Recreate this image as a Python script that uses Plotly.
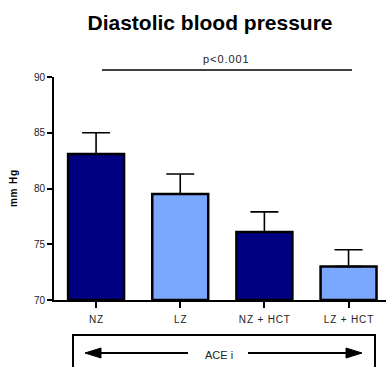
import plotly.graph_objects as go

categories = ["NZ", "LZ", "NZ + HCT", "LZ + HCT"]
means = [83.1, 79.5, 76.1, 73.0]
sem = [1.9, 1.8, 1.8, 1.5]
colors = ["#000080", "#7BA7FF", "#000080", "#7BA7FF"]
y_ticks = [70, 75, 80, 85, 90]

W, H = 386, 367
L, R, T, B = 54, 0, 77, 67
FONT = "Liberation Sans, Arial"
HS = "\u200a"

def spaced(s):
    return HS.join(list(s))

def px(x):
    return (x - L) / (W - L - R)

def py(y):
    return (H - B - y) / (H - T - B)

fig = go.Figure()
fig.add_trace(go.Bar(
    x=categories, y=[m - 70 for m in means], base=70,
    width=0.665,
    marker=dict(color=colors, line=dict(color="black", width=2.5)),
    error_y=dict(type="data", symmetric=False, array=sem,
                 arrayminus=[0] * len(sem), color="black",
                 thickness=1.6, width=14),
))

shapes = []
shapes.append(dict(type="line", xref="paper", yref="paper",
                   x0=px(102), x1=px(352), y0=py(70), y1=py(70),
                   line=dict(color="black", width=1.6)))
bx0, bx1, by0, by1 = px(73), px(375), py(335), py(372)
shapes.append(dict(type="path", xref="paper", yref="paper",
                   path=f"M {bx0},{by1} L {bx0},{by0} L {bx1},{by0} L {bx1},{by1}",
                   line=dict(color="black", width=2)))
ay = py(353)
shapes.append(dict(type="line", xref="paper", yref="paper",
                   x0=px(95), x1=px(188), y0=ay, y1=ay,
                   line=dict(color="black", width=2)))
shapes.append(dict(type="line", xref="paper", yref="paper",
                   x0=px(248), x1=px(352), y0=ay, y1=ay,
                   line=dict(color="black", width=2)))
shapes.append(dict(type="path", xref="paper", yref="paper",
                   path=f"M {px(85)},{ay} L {px(101)},{py(348)} L {px(101)},{py(358)} Z",
                   fillcolor="black", line=dict(color="black", width=1)))
shapes.append(dict(type="path", xref="paper", yref="paper",
                   path=f"M {px(362)},{ay} L {px(346)},{py(348)} L {px(346)},{py(358)} Z",
                   fillcolor="black", line=dict(color="black", width=1)))

annotations = [
    dict(text=spaced("p<0.001"), xref="paper", yref="paper", x=px(226), y=py(59),
         xanchor="center", yanchor="middle",
         showarrow=False, font=dict(size=11, color="#222", family=FONT)),
    dict(text="ACE i", xref="paper", yref="paper", x=px(219), y=py(355),
         xanchor="center", yanchor="middle",
         showarrow=False, font=dict(size=11, color="#222", family=FONT)),
]

fig.update_layout(
    width=W, height=H,
    margin=dict(l=L, r=R, t=T, b=B, pad=0),
    paper_bgcolor="white", plot_bgcolor="white",
    showlegend=False,
    title=dict(text="<b>Diastolic blood pressure</b>", x=210 / W, xanchor="center",
               y=1 - 23 / H, yanchor="middle",
               font=dict(size=21, color="black", family=FONT)),
    shapes=shapes,
    annotations=annotations,
    bargap=0.335,
)
fig.update_xaxes(
    range=[-0.5, 3.445], showline=True, linecolor="black", linewidth=2,
    ticks="outside", ticklen=6, tickwidth=2, tickcolor="black",
    showgrid=False, zeroline=False, automargin=False, ticklabelstandoff=3,
    tickvals=categories, ticktext=[spaced(c) for c in categories],
    tickfont=dict(size=10, color="#222", family=FONT),
)
fig.update_yaxes(
    range=[70, 90], tickvals=y_ticks, showline=True, linecolor="black", linewidth=2,
    ticks="outside", ticklen=5, tickwidth=2, tickcolor="black",
    showgrid=False, zeroline=False, automargin=False,
    tickfont=dict(size=10, color="#222", family=FONT),
    title=dict(text="<b>" + spaced("mm Hg") + "</b>", font=dict(size=10, color="black", family=FONT),
               standoff=14),
)

fig.write_html("out.html", config={"displayModeBar": False},
               post_script="document.body.style.margin='0';document.body.style.overflow='hidden';")
